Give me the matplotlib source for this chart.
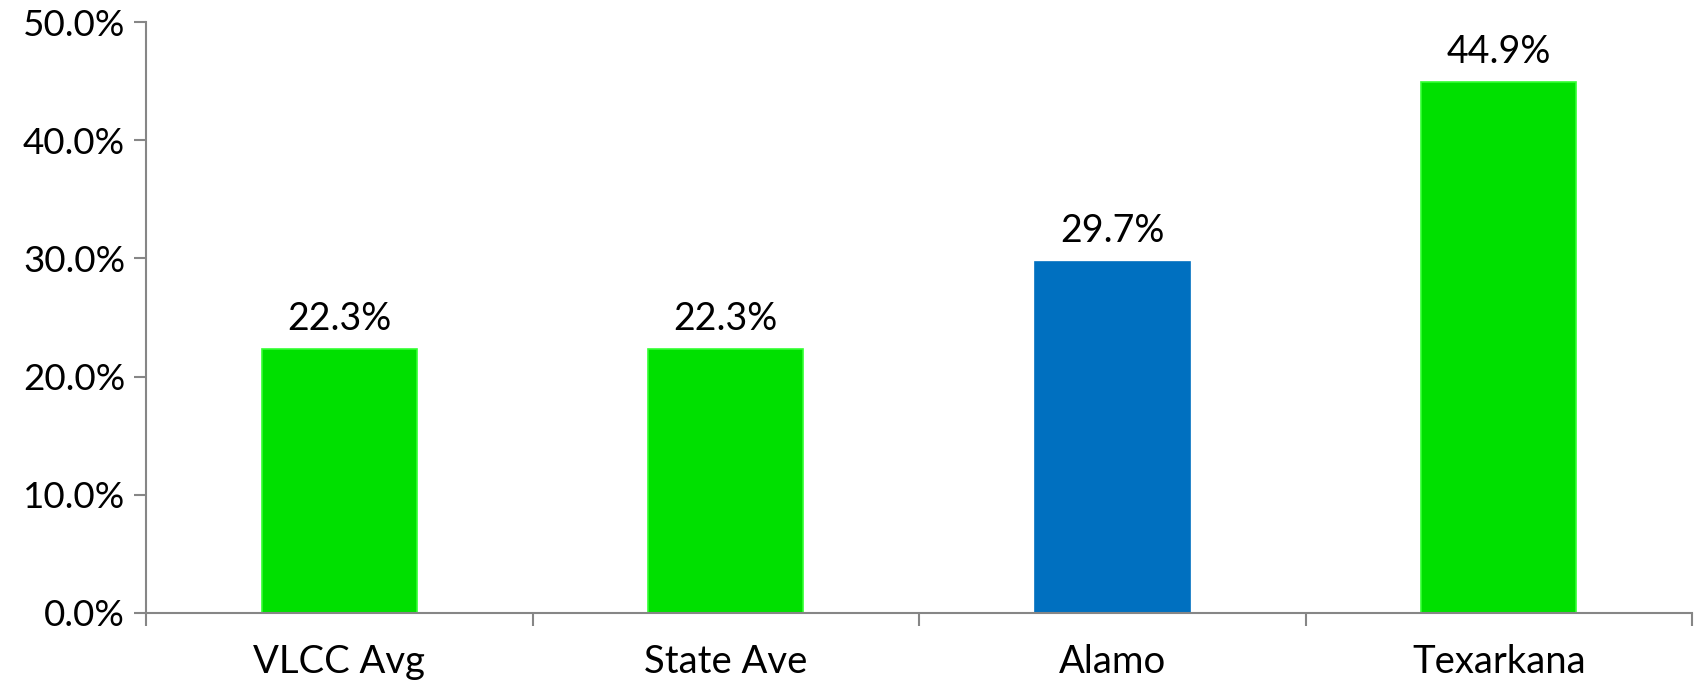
#!/usr/bin/env python3

import matplotlib.pyplot as plt
import numpy as np
from matplotlib.ticker import FuncFormatter, FixedLocator

categories = ["VLCC Avg", "State Ave", "Alamo", "Texarkana"]
values = [22.3, 22.3, 29.7, 44.9]
colors = ["#00e000", "#00e000", "#0070c0", "#00e000"]
edges = ["#33ff33", "#33ff33", "#0070c0", "#33ff33"]

plt.rcParams.update({
    "font.family": ["Lato", "DejaVu Sans"],
})

fig = plt.figure(figsize=(16.96, 6.84), dpi=100)
ax = fig.add_axes([146 / 1696, 1 - 613 / 684, (1692 - 146) / 1696, (613 - 22) / 684])

x = np.arange(len(categories))
bars = ax.bar(x, values, width=0.4, color=colors, edgecolor=edges, linewidth=1.2)

for bar, v in zip(bars, values):
    ax.annotate(f"{v:.1f}%",
                xy=(bar.get_x() + bar.get_width() / 2, bar.get_height()),
                xytext=(0, 9), textcoords="offset points",
                ha="center", va="bottom", fontsize=27)

# Styling
ax.set_xlim(-0.5, len(categories) - 0.5)
ax.set_ylim(0, 50)
ax.set_yticks(np.arange(0, 51, 10))
ax.yaxis.set_major_formatter(FuncFormatter(lambda v, p: f"{v:.1f}%"))
ax.set_xticks(x)
ax.set_xticklabels(categories)
ax.xaxis.set_minor_locator(FixedLocator(np.arange(-0.5, len(categories), 1.0)))

ax.spines["top"].set_visible(False)
ax.spines["right"].set_visible(False)
ax.spines["left"].set_color("#868686")
ax.spines["bottom"].set_color("#868686")
ax.spines["left"].set_linewidth(1.5)
ax.spines["bottom"].set_linewidth(1.5)

ax.tick_params(axis="y", length=9, width=1.5, color="#868686", labelsize=26.5, pad=6)
ax.tick_params(axis="x", which="major", length=0, labelsize=27.5, pad=22)
ax.tick_params(axis="x", which="minor", length=9, width=1.5, color="#868686")

fig.savefig("out.png", dpi=100)
